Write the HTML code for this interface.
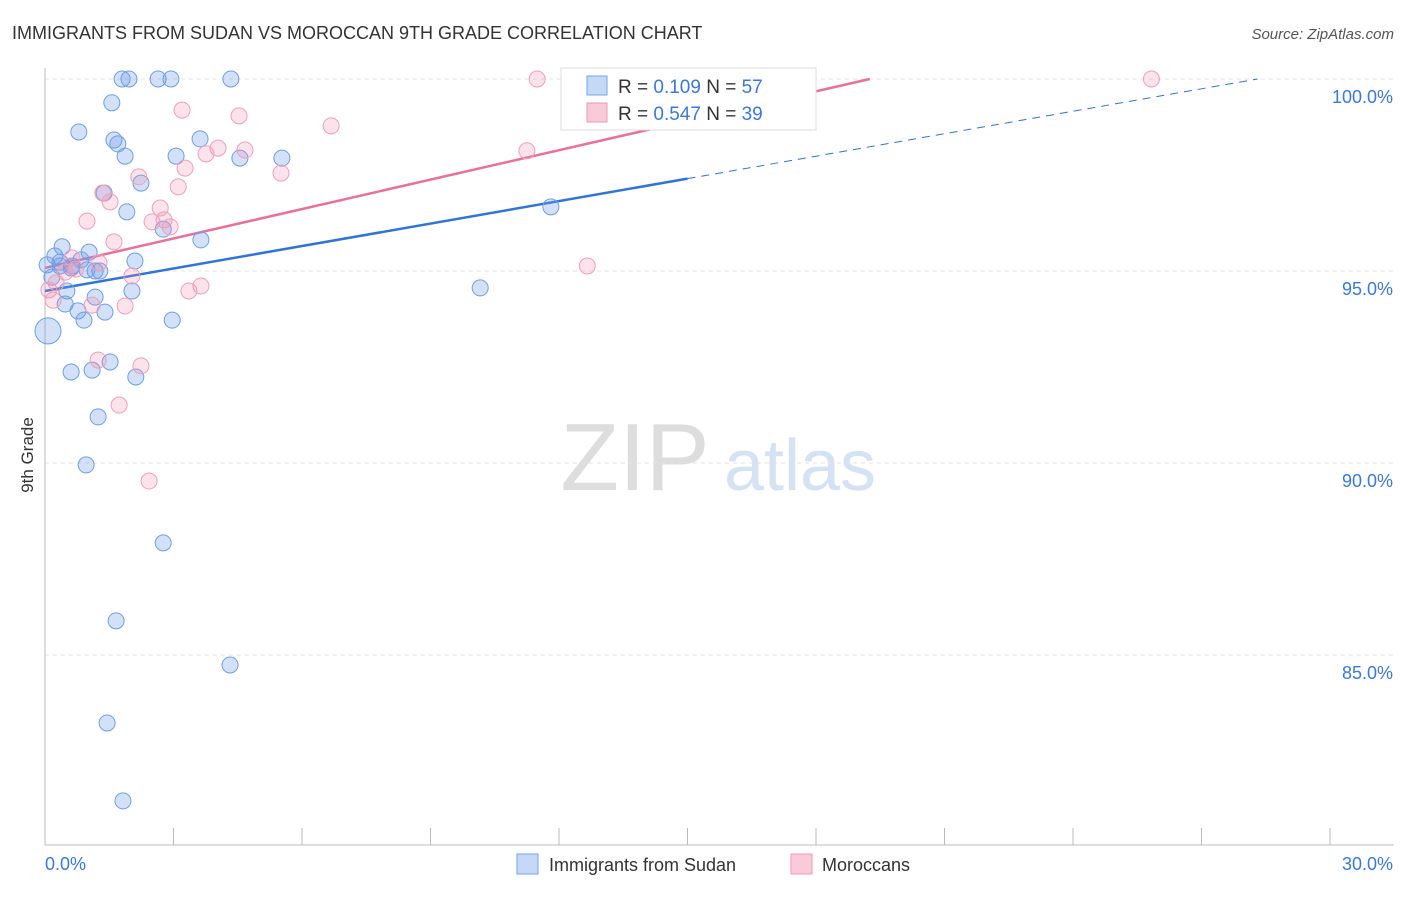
<!DOCTYPE html>
<html><head><meta charset="utf-8"><style>
body{margin:0;background:#fff;font-family:"Liberation Sans",sans-serif}
svg text{font-family:"Liberation Sans",sans-serif}
</style></head><body>
<svg id="chart" width="1406" height="892" xmlns="http://www.w3.org/2000/svg">
<text x="12" y="39" font-size="18" fill="#333">IMMIGRANTS FROM SUDAN VS MOROCCAN 9TH GRADE CORRELATION CHART</text>
<text x="1394" y="39" font-size="15" fill="#555" text-anchor="end" font-style="italic">Source: ZipAtlas.com</text>
<text x="33" y="455" font-size="17" fill="#333" transform="rotate(-90 33 455)" text-anchor="middle">9th Grade</text>
<g><text x="635" y="490" font-size="96" fill="#ddd" font-family="Liberation Serif" text-anchor="middle">ZIP</text><text x="800" y="490" font-size="72" fill="#d5e2f4" text-anchor="middle">atlas</text></g>
<g id="grid"></g><g id="axes"></g><g id="lines"></g><g id="pts"></g>
<g>
<rect x="561" y="68" width="255" height="62" fill="#fff" stroke="#ddd"/>
<rect x="587" y="76" width="20" height="19" fill="#c5d9f6" stroke="#7aa5e8"/>
<text x="618" y="93" font-size="19" fill="#333">R = <tspan fill="#3b78d8">0.109</tspan>   N = <tspan fill="#3b78d8">57</tspan></text>
<rect x="587" y="103" width="20" height="19" fill="#f9cbd9" stroke="#ee9ab5"/>
<text x="618" y="120" font-size="19" fill="#333">R = <tspan fill="#3b78d8">0.547</tspan>   N = <tspan fill="#3b78d8">39</tspan></text>
</g>
<g>
<rect x="517" y="854" width="21" height="20" fill="#c5d9f6" stroke="#7aa5e8"/>
<text x="549" y="871" font-size="18" fill="#333">Immigrants from Sudan</text>
<rect x="791" y="854" width="21" height="20" fill="#f9cbd9" stroke="#ee9ab5"/>
<text x="822" y="871" font-size="18" fill="#333">Moroccans</text>
</g>
</svg>
<script>
const xTicks=[0,3,6,9,12,15,18,21,24,27,30];
const yTicks=[85,90,95,100];
const yTickLabels=["85.0%","90.0%","95.0%","100.0%"];
const sudanX=[1.80,1.96,2.64,2.94,4.34,1.56,0.79,1.61,1.70,3.62,1.87,3.06,4.55,5.53,2.24,1.91,11.81,2.76,3.64,0.40,1.03,0.23,0.84,2.10,0.05,0.35,0.63,1.28,1.17,0.98,0.16,0.51,2.03,10.16,1.17,0.47,0.77,1.40,0.91,2.97,0.07,1.52,0.61,1.10,2.12,1.24,0.96,2.76,1.66,4.32,1.45,1.82,1.38,0.35,0.61];
const sudanY=[100,100,100,100,100,99.38,98.62,98.41,98.31,98.44,97.99,97.99,97.94,97.94,97.29,96.54,96.67,96.09,95.81,95.63,95.49,95.39,95.29,95.26,95.16,95.13,95.13,95.00,95.00,95.03,94.84,94.48,94.48,94.56,94.32,94.14,93.96,93.93,93.72,93.72,93.44,92.63,92.37,92.42,92.24,91.20,89.95,87.92,85.89,84.74,83.23,81.20,97.03,95.23,95.08];
const morX=[11.49,15.92,25.83,3.20,4.53,6.68,11.25,4.04,4.67,3.76,3.27,5.51,2.19,3.11,1.35,1.52,2.69,2.50,2.78,2.92,0.98,1.61,0.63,1.26,2.03,0.26,0.09,0.19,3.64,3.36,1.87,1.10,12.66,1.24,2.24,1.73,2.43,0.72,0.47];
const morY=[100,100,100,99.19,99.04,98.78,98.13,98.20,98.15,98.05,97.68,97.55,97.45,97.19,97.03,96.80,96.64,96.28,96.33,96.15,96.30,95.76,95.34,95.21,94.87,94.69,94.51,94.24,94.61,94.48,94.09,94.11,95.13,92.68,92.53,91.51,89.53,95.05,94.97];
const sudanTrend=[94.48,0.195];
const morTrend=[95.08,0.2555];
const NS="http://www.w3.org/2000/svg";
const X=v=>45+v*1285/30, Y=v=>79+(100-v)*38.4;
function mk(t,a,p){const e=document.createElementNS(NS,t);for(const k in a)e.setAttribute(k,a[k]);document.getElementById(p).appendChild(e);return e;}
yTicks.forEach((t,i)=>{
 const g=mk('line',{x1:45,x2:1394,y1:Y(t),y2:Y(t),stroke:'#e3e3e3','stroke-dasharray':'4,4'},'grid');
 
 
 const l=mk('text',{x:1393,y:Y(t)+24,'font-size':18,fill:'#3b78d8','text-anchor':'end'},'axes');
 l.textContent=yTickLabels[i];
 
 
});
const xa=mk('line',{x1:45,x2:1394,y1:845,y2:845,stroke:'#bbb'},'axes');


const ya=mk('line',{x1:45,x2:45,y1:68,y2:845,stroke:'#bbb'},'axes');


xTicks.forEach(t=>{
 const k=mk('line',{x1:X(t),x2:X(t),y1:828,y2:845,stroke:'#bbb'},'axes');
 
 
});
const xl0=mk('text',{x:45,y:870,'font-size':18,fill:'#3b78d8'},'axes');xl0.textContent=xTicks[0].toFixed(1)+'%';


const xl1=mk('text',{x:1393,y:870,'font-size':18,fill:'#3b78d8','text-anchor':'end'},'axes');xl1.textContent=xTicks[xTicks.length-1].toFixed(1)+'%';


function dots(xs,ys,fill,stroke,name){xs.forEach((x,i)=>{
 const c=mk('circle',{cx:X(x),cy:Y(ys[i]),r:(name==='sudan-point'&&i===40)?13:8,fill:fill,stroke:stroke,'stroke-width':1},'pts');
 
 
});}
dots(sudanX,sudanY,'rgba(110,155,232,0.3)','#6f9ee6','sudan-point');
dots(morX,morY,'rgba(240,140,175,0.25)','#eea0ba','moroccan-point');
const bEnd=(100-sudanTrend[0])/sudanTrend[1];
const b1=mk('line',{x1:X(0),y1:Y(sudanTrend[0]),x2:X(15),y2:Y(sudanTrend[0]+15*sudanTrend[1]),stroke:'#2f74d6','stroke-width':2.5},'lines');


const b2=mk('line',{x1:X(15),y1:Y(sudanTrend[0]+15*sudanTrend[1]),x2:X(bEnd),y2:Y(100),stroke:'#2f74d6','stroke-width':1,'stroke-dasharray':'8,6'},'lines');


const mEnd=(100-morTrend[0])/morTrend[1];
const p1=mk('line',{x1:X(0),y1:Y(morTrend[0]),x2:X(mEnd),y2:Y(100),stroke:'#e8709a','stroke-width':2.5},'lines');


</script>
</body></html>
